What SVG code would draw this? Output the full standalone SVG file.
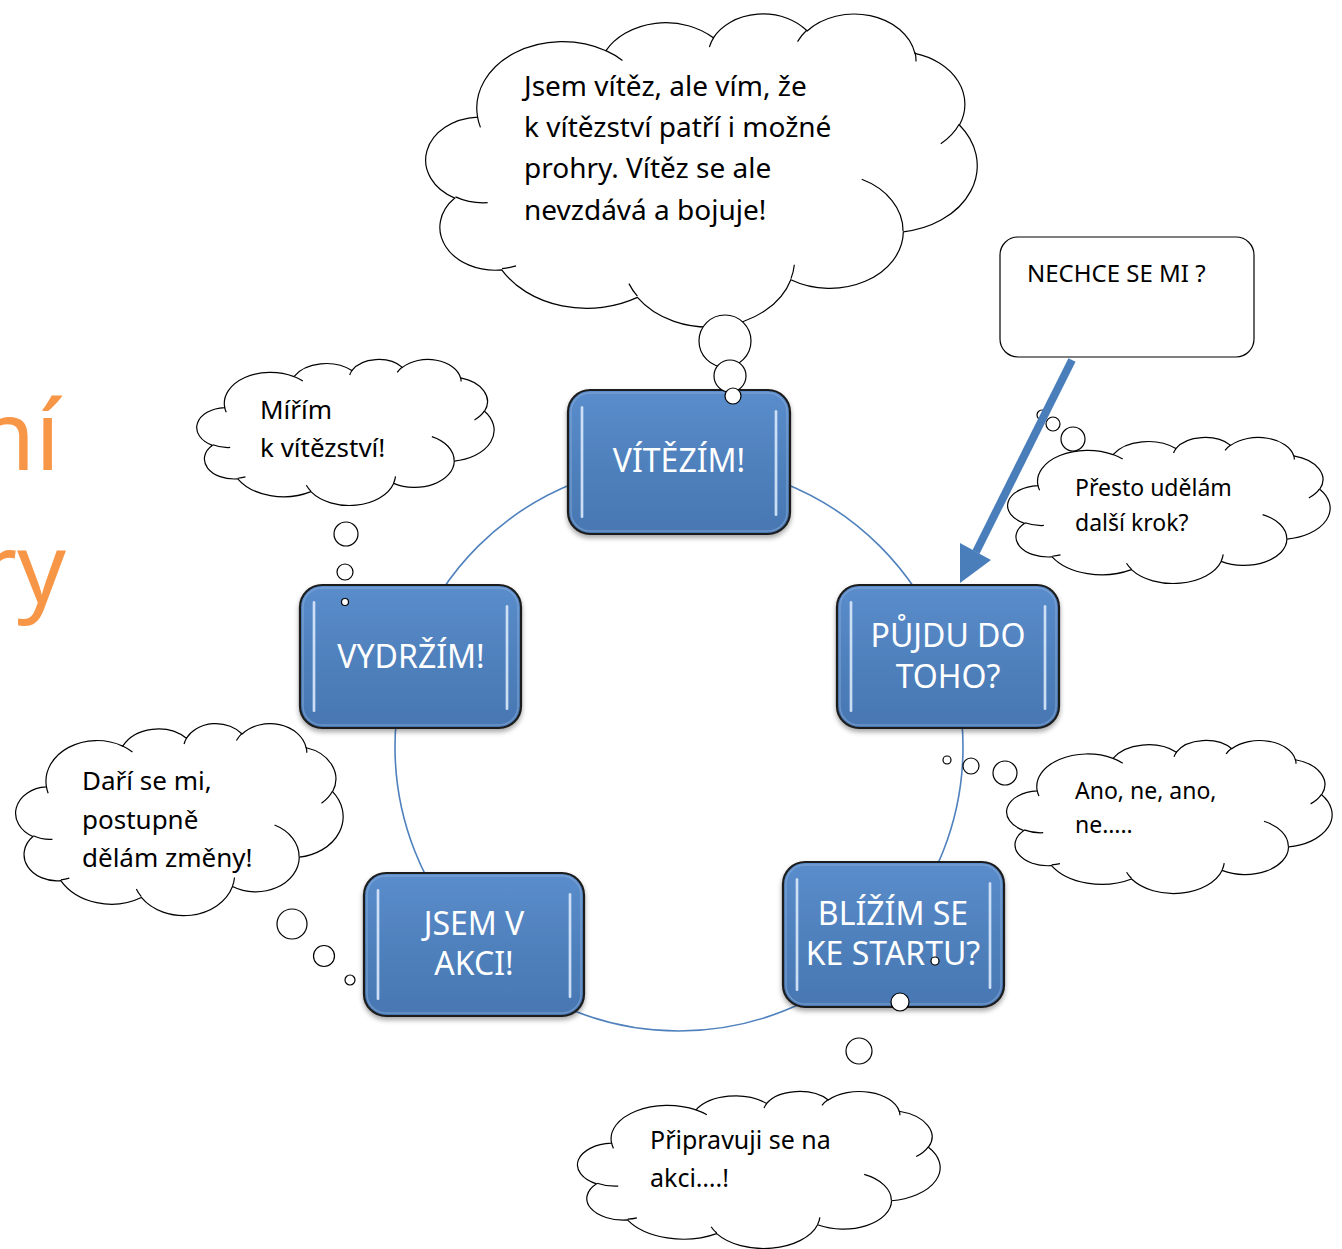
<svg xmlns="http://www.w3.org/2000/svg" xmlns:xlink="http://www.w3.org/1999/xlink" width="1342" height="1249" viewBox="0 0 1342 1249">
<style>
.co{fill:#fff;stroke:#000;stroke-width:1.2}
.ci{fill:none;stroke:#000;stroke-width:1.2}
.bub{fill:#fff;stroke:#000;stroke-width:1.2}
.box{fill:url(#boxGrad);stroke:#1e1e1e;stroke-width:2.2;filter:url(#shadow)}
.boxin{fill:none;stroke:#8fb2de;stroke-width:1.5;opacity:.5}
.gloss{fill:url(#glossGrad);filter:url(#soft);opacity:.9}
.bt{font-family:"Noto Sans","Open Sans",sans-serif;font-size:32px;fill:#fff;text-anchor:middle}
.ct{font-family:"Noto Sans","Open Sans",sans-serif;fill:#000}
.ring{fill:none;stroke:#4F81BD;stroke-width:1.6}
</style>
<defs>
<linearGradient id="boxGrad" x1="0" y1="0" x2="0" y2="1">
<stop offset="0" stop-color="#5b8dcc"/>
<stop offset="0.5" stop-color="#4f81bd"/>
<stop offset="1" stop-color="#4877b2"/>
</linearGradient>
<linearGradient id="glossGrad" x1="0" y1="0" x2="1" y2="0">
<stop offset="0" stop-color="#a9c8ee"/>
<stop offset="0.5" stop-color="#f4f9ff"/>
<stop offset="1" stop-color="#a9c8ee"/>
</linearGradient>
<filter id="shadow" x="-10%" y="-10%" width="120%" height="130%">
<feDropShadow dx="0" dy="3" stdDeviation="2.5" flood-color="#000" flood-opacity="0.35"/>
</filter>
<filter id="soft" x="-100%" y="-10%" width="300%" height="120%">
<feGaussianBlur stdDeviation="0.7"/>
</filter>
<symbol id="cloud" viewBox="0 0 43200 43200" preserveAspectRatio="none" overflow="visible">
<path class="co" vector-effect="non-scaling-stroke" d="M3900 14370 A6753 9190 0 0 1 14003 5201 A5333 7267 0 0 1 22453 3428 A4365 5945 0 0 1 29831 2476 A4857 6595 0 0 1 38316 5572 A5333 7273 0 0 1 41817 15454 A6775 9220 0 0 1 37402 30196 A5785 7867 0 0 1 28553 36806 A6752 9215 0 0 1 16477 39255 A7720 10543 0 0 1 5803 35463 A4360 5918 0 0 1 2108 25545 A4345 5945 0 0 1 3900 14370 Z"/>
<path class="ci" vector-effect="non-scaling-stroke" d="M4693 26177 A4345 5945 0 0 1 2159 25379 M6928 34899 A4360 5918 0 0 1 5821 35280 M16478 39090 A6752 9215 0 0 1 15811 37352 M28827 34751 A6752 9215 0 0 1 28561 36660 M34129 22954 A5785 7867 0 0 1 37378 30088 M41798 15354 A5333 7273 0 0 1 40349 18032 M38324 5426 A4857 6595 0 0 1 38400 6689 M29078 3952 A4857 6595 0 0 1 29820 2340 M22141 4720 A4365 5945 0 0 1 22500 3331 M14000 5192 A6753 9190 0 0 1 15302 6542 M4127 15789 A6753 9190 0 0 1 3900 14370"/>
</symbol>
</defs>

<g id="title-fragment" font-family="Noto Sans, Open Sans, sans-serif" font-size="96" fill="#F79646" text-anchor="end">
<text x="60" y="470">ní</text>
<text x="66" y="603">ry</text>
</g>

<g id="connectors">
<circle class="ring" cx="679" cy="747" r="284"/>
</g>

<g id="box-vitezim">
<rect class="box" x="568" y="390" width="222" height="144" rx="22"/>
<rect class="boxin" x="571" y="393" width="216" height="138" rx="19"/>
<rect class="gloss" x="580.5" y="406" width="3" height="112" rx="1.5"/>
<rect class="gloss" x="774.5" y="410" width="3" height="106" rx="1.5"/>
<text class="bt" x="679" y="472">VÍTĚZÍM!</text>
</g>

<g id="box-vydrzim">
<rect class="box" x="300" y="585" width="221" height="143" rx="22"/>
<rect class="boxin" x="303" y="588" width="215" height="137" rx="19"/>
<rect class="gloss" x="312.5" y="601" width="3" height="111" rx="1.5"/>
<rect class="gloss" x="505.5" y="605" width="3" height="105" rx="1.5"/>
<text class="bt" x="411" y="668">VYDRŽÍM!</text>
</g>

<g id="box-pujdu">
<rect class="box" x="837" y="585" width="222" height="143" rx="22"/>
<rect class="boxin" x="840" y="588" width="216" height="137" rx="19"/>
<rect class="gloss" x="849.5" y="601" width="3" height="111" rx="1.5"/>
<rect class="gloss" x="1043.5" y="605" width="3" height="105" rx="1.5"/>
<text class="bt" x="948" y="647">PŮJDU DO</text>
<text class="bt" x="948" y="688">TOHO?</text>
</g>

<g id="box-blizim">
<rect class="box" x="783" y="862" width="221" height="145" rx="22"/>
<rect class="boxin" x="786" y="865" width="215" height="139" rx="19"/>
<rect class="gloss" x="795.5" y="878" width="3" height="113" rx="1.5"/>
<rect class="gloss" x="988.5" y="882" width="3" height="107" rx="1.5"/>
<text class="bt" x="893" y="925">BLÍŽÍM SE</text>
<text class="bt" x="893" y="965">KE STARTU?</text>
</g>

<g id="box-akce">
<rect class="box" x="364" y="873" width="220" height="143" rx="22"/>
<rect class="boxin" x="367" y="876" width="214" height="137" rx="19"/>
<rect class="gloss" x="376.5" y="889" width="3" height="111" rx="1.5"/>
<rect class="gloss" x="568.5" y="893" width="3" height="105" rx="1.5"/>
<text class="bt" x="474" y="935">JSEM V</text>
<text class="bt" x="474" y="975">AKCI!</text>
</g>

<g id="cloud-vitez">
<use href="#cloud" x="428" y="13" width="549" height="313"/>
<circle class="bub" cx="725" cy="341" r="26"/>
<circle class="bub" cx="730" cy="376" r="16"/>
<circle class="bub" cx="733" cy="396" r="8"/>
<g class="ct" font-size="28">
<text x="524" y="96">Jsem vítěz, ale vím, že</text>
<text x="524" y="137">k vítězství patří i možné</text>
<text x="524" y="178">prohry. Vítěz se ale</text>
<text x="524" y="220">nevzdává a bojuje!</text>
</g>
</g>

<g id="cloud-mirim">
<use href="#cloud" x="198" y="359" width="296" height="146"/>
<circle class="bub" cx="346" cy="534" r="12"/>
<circle class="bub" cx="345" cy="572" r="8"/>
<circle class="bub" cx="345" cy="602" r="3.5"/>
<g class="ct" font-size="26">
<text x="260" y="419">Mířím</text>
<text x="260" y="457">k vítězství!</text>
</g>
</g>

<g id="cloud-dari">
<use href="#cloud" x="17" y="723" width="326" height="192"/>
<circle class="bub" cx="292" cy="924" r="15"/>
<circle class="bub" cx="324" cy="956" r="10.5"/>
<circle class="bub" cx="350" cy="980" r="5"/>
<g class="ct" font-size="26">
<text x="82" y="790">Daří se mi,</text>
<text x="82" y="829">postupně</text>
<text x="82" y="867">dělám změny!</text>
</g>
</g>

<g id="cloud-presto">
<use href="#cloud" x="1009" y="437" width="321" height="146"/>
<circle class="bub" cx="1042" cy="415" r="5"/>
<circle class="bub" cx="1053" cy="424" r="7"/>
<circle class="bub" cx="1073" cy="439" r="12"/>
<g class="ct" font-size="23">
<text x="1075" y="496">Přesto udělám</text>
<text x="1075" y="531">další krok?</text>
</g>
</g>

<g id="cloud-ano">
<use href="#cloud" x="1008" y="740" width="324" height="153"/>
<circle class="bub" cx="947" cy="760" r="4"/>
<circle class="bub" cx="971" cy="766" r="8"/>
<circle class="bub" cx="1005" cy="773" r="12"/>
<g class="ct" font-size="23">
<text x="1075" y="799">Ano, ne, ano,</text>
<text x="1075" y="833">ne…..</text>
</g>
</g>

<g id="cloud-pripravuji">
<use href="#cloud" x="579" y="1091" width="361" height="157"/>
<circle class="bub" cx="859" cy="1051" r="13"/>
<circle class="bub" cx="900" cy="1002" r="9"/>
<circle class="bub" cx="935" cy="961" r="4"/>
<g class="ct" font-size="25">
<text x="650" y="1149">Připravuji se na</text>
<text x="650" y="1187">akci….!</text>
</g>
</g>

<g id="note-nechce">
<rect x="1000" y="237" width="254" height="120" rx="18" fill="#fff" stroke="#000" stroke-width="1.2"/>
<text class="ct" x="1027" y="282" font-size="24">NECHCE SE MI ?</text>
</g>

<g id="arrow">
<line x1="1072" y1="360" x2="976" y2="552" stroke="#4A7EBB" stroke-width="8"/>
<polygon points="960,583 991,560 960,543" fill="#4A7EBB"/>
</g>
</svg>
